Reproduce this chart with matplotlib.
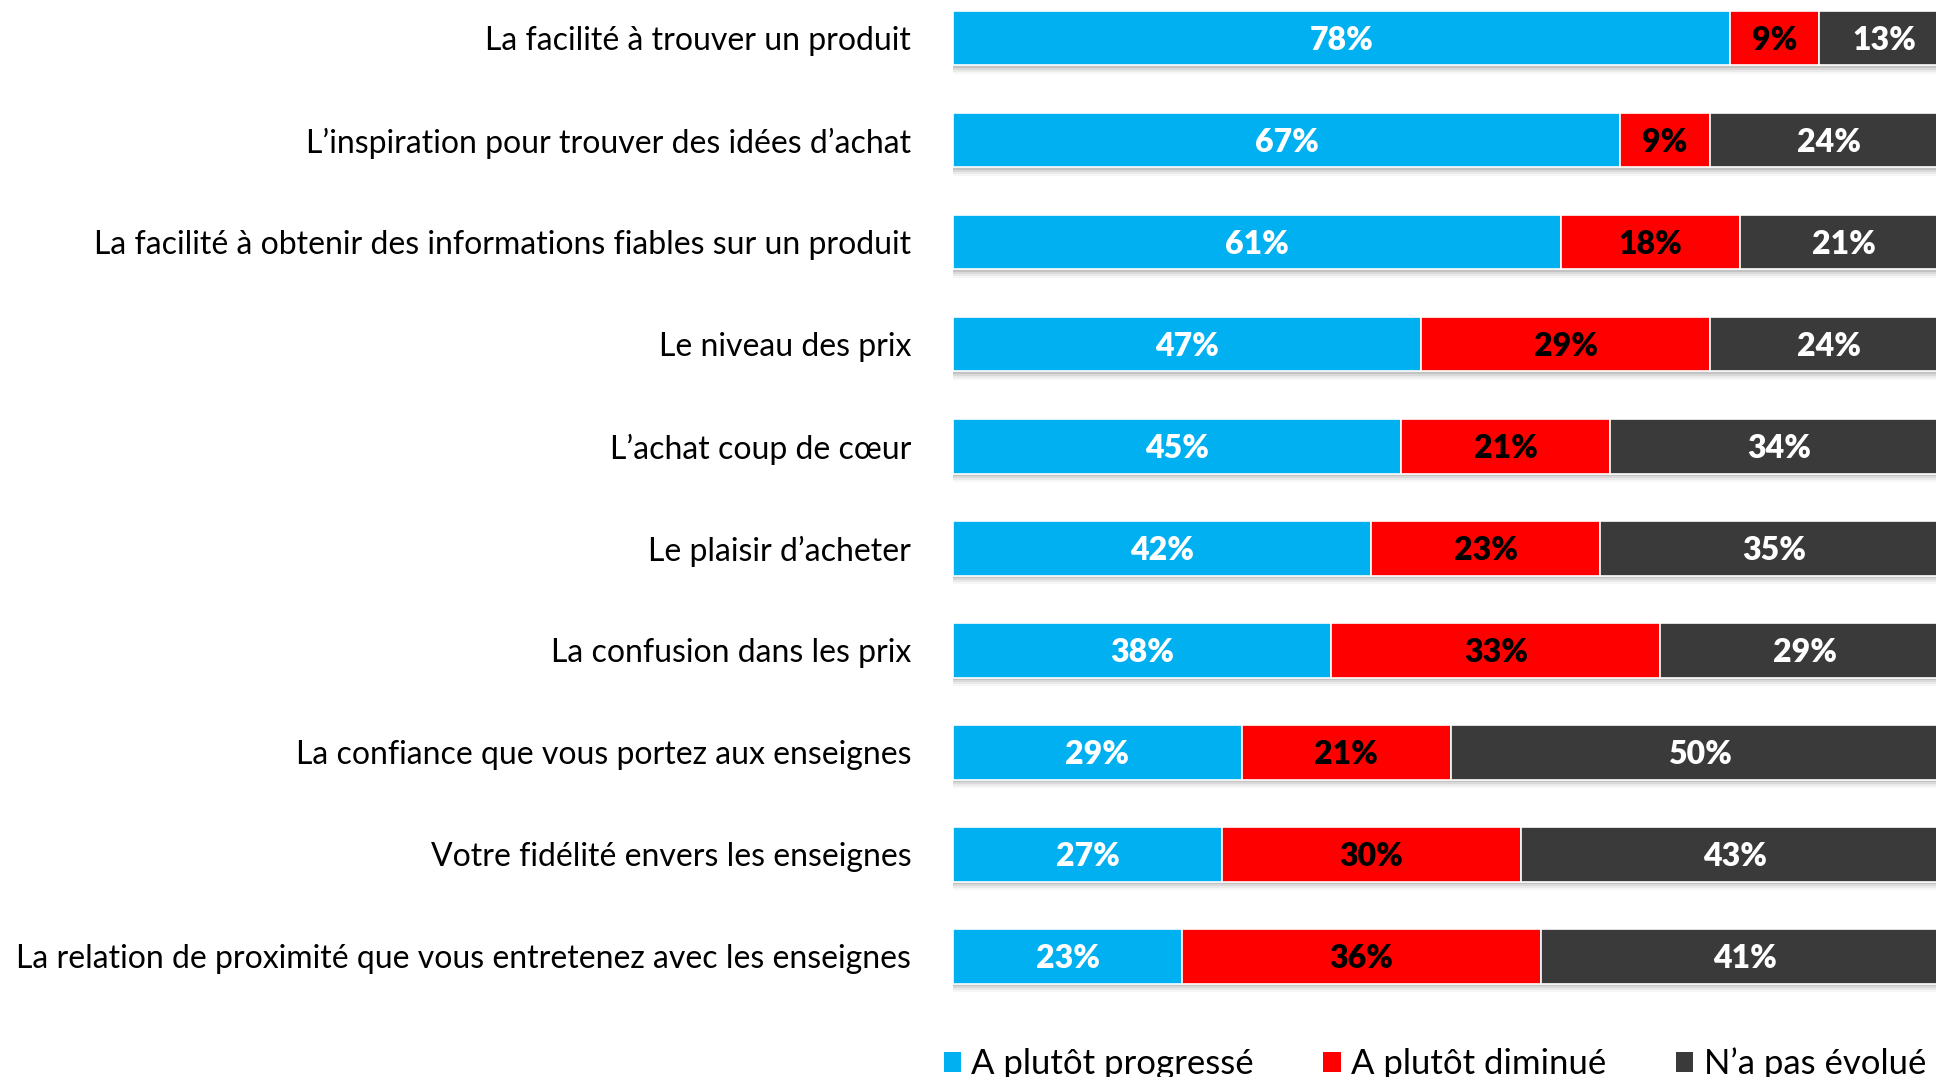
import matplotlib.pyplot as plt
from matplotlib.patches import Patch

plt.rcParams['font.family'] = ['Lato', 'DejaVu Sans']

categories = [
    "La facilité à trouver un produit",
    "L\u2019inspiration pour trouver des idées d\u2019achat",
    "La facilité à obtenir des informations fiables sur un produit",
    "Le niveau des prix",
    "L\u2019achat coup de c\u0153ur",
    "Le plaisir d\u2019acheter",
    "La confusion dans les prix",
    "La confiance que vous portez aux enseignes",
    "Votre fidélité envers les enseignes",
    "La relation de proximité que vous entretenez avec les enseignes",
]
progresse = [78, 67, 61, 47, 45, 42, 38, 29, 27, 23]
diminue = [9, 9, 18, 29, 21, 23, 33, 21, 30, 36]
pas_evolue = [13, 24, 21, 24, 34, 35, 29, 50, 43, 41]
series_names = ["A plutôt progressé", "A plutôt diminué", "N\u2019a pas évolué"]
colors = ["#00B0F0", "#FF0000", "#3A3A3A"]
text_colors = ["white", "black", "white"]

W, H = 1936, 1077
fig = plt.figure(figsize=(W / 100, H / 100), dpi=100)
ax = fig.add_axes([953 / W, 1 - 1008 / H, (W - 953) / W, 1008 / H])

y = list(range(len(categories)))
bar_h = 0.53
series = [progresse, diminue, pas_evolue]

# soft shadow under each bar
totals = [a + b + c for a, b, c in zip(progresse, diminue, pas_evolue)]
for off, alpha in [(0.02, 0.18), (0.04, 0.12), (0.06, 0.08), (0.08, 0.05)]:
    ax.barh([v + off for v in y], totals, height=bar_h, color="#606060",
            alpha=alpha, zorder=1, linewidth=0)

left = [0] * len(categories)
for vals, col, tcol in zip(series, colors, text_colors):
    ax.barh(y, vals, left=left, height=bar_h, color=col, edgecolor="white",
            linewidth=1.2, zorder=3)
    for i, v in enumerate(vals):
        ax.text(left[i] + v / 2, i + 0.02, f"{v}%", ha="center", va="center",
                color=tcol, fontsize=23, fontweight="heavy", zorder=4)
    left = [l + v for l, v in zip(left, vals)]

ax.set_xlim(0, 98.7)
ax.set_ylim(9.505, -0.377)
ax.set_yticks(y)
ax.set_yticklabels(categories, fontsize=23)
ax.tick_params(axis="y", length=0, pad=30)
ax.set_xticks([])
for s in ax.spines.values():
    s.set_visible(False)

handles = [Patch(facecolor=c, edgecolor="none") for c in colors]
fig.legend(handles, series_names, loc="lower right", bbox_to_anchor=(1.011, -0.032),
           ncol=3, frameon=False, fontsize=25, handlelength=0.5, handleheight=0.5,
           handletextpad=0.3, columnspacing=2.0)

fig.savefig("out.png", dpi=100)
